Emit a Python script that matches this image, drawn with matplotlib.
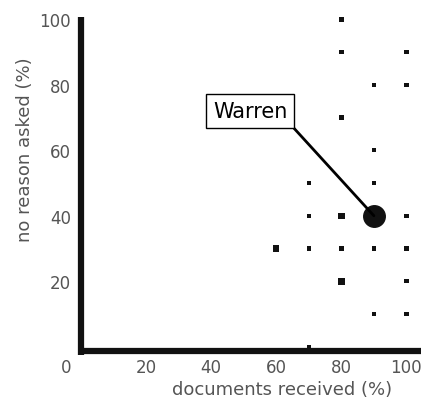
import matplotlib
matplotlib.use('Agg')
import matplotlib.pyplot as plt

# documents received (%) vs no reason asked (%)
docs_received = [80, 80, 100, 90, 100, 80, 90, 70, 90, 70, 80, 100,
                 60, 70, 80, 90, 100, 80, 100, 90, 100, 70]
no_reason = [100, 90, 90, 80, 80, 70, 60, 50, 50, 40, 40, 40,
             30, 30, 30, 30, 30, 20, 20, 10, 10, 0]
dot_weight = [1, 1, 1, 1, 1, 1, 1, 1, 1, 1, 2, 1,
              2, 1, 1, 1, 1, 2, 1, 1, 1, 1]

warren = (90, 40)
tick_vals = [20, 40, 60, 80, 100]

fig = plt.figure(figsize=(4.35, 4.02), dpi=100)
ax = fig.add_axes([0.186, 0.135, 0.782, 0.821])

sizes = [10 if w == 1 else 22 for w in dot_weight]
ax.scatter(docs_received, no_reason, s=sizes, c='#111111', marker='s',
           linewidths=0, zorder=3, clip_on=False)
ax.scatter([warren[0]], [warren[1]], s=240, c='#111111', zorder=4)

ax.annotate('Warren', xy=warren, xytext=(52, 72), fontsize=15,
            ha='center', va='center', zorder=5,
            bbox=dict(boxstyle='square,pad=0.33', fc='white', ec='black', lw=1),
            arrowprops=dict(arrowstyle='-', color='black', lw=2,
                            relpos=(1, 0), shrinkA=0, shrinkB=0))

ax.set_xlim(0, 104.5)
ax.set_ylim(0, 100.8)

for side in ['top', 'right']:
    ax.spines[side].set_visible(False)
for side in ['left', 'bottom']:
    ax.spines[side].set_linewidth(4.5)
    ax.spines[side].set_color('#111111')
    ax.spines[side].set_capstyle('butt')
ax.spines['bottom'].set_position(('outward', 3))
ax.spines['left'].set_bounds(-2.5, 100.8)

ax.set_xticks(tick_vals)
ax.set_yticks(tick_vals)
ax.tick_params(length=0, labelsize=12, labelcolor='#555555', pad=7)
ax.tick_params(axis='x', pad=5)
ax.text(-3, -3.5, '0', transform=ax.transData, ha='right', va='top',
        fontsize=12, color='#555555', clip_on=False)

ax.set_xlabel('documents received (%)', fontsize=13, color='#555555',
              labelpad=3, x=0.59)
ax.set_ylabel('no reason asked (%)', fontsize=13, color='#555555',
              labelpad=4, y=0.6)

fig.savefig('out.png', dpi=100, facecolor='white')
